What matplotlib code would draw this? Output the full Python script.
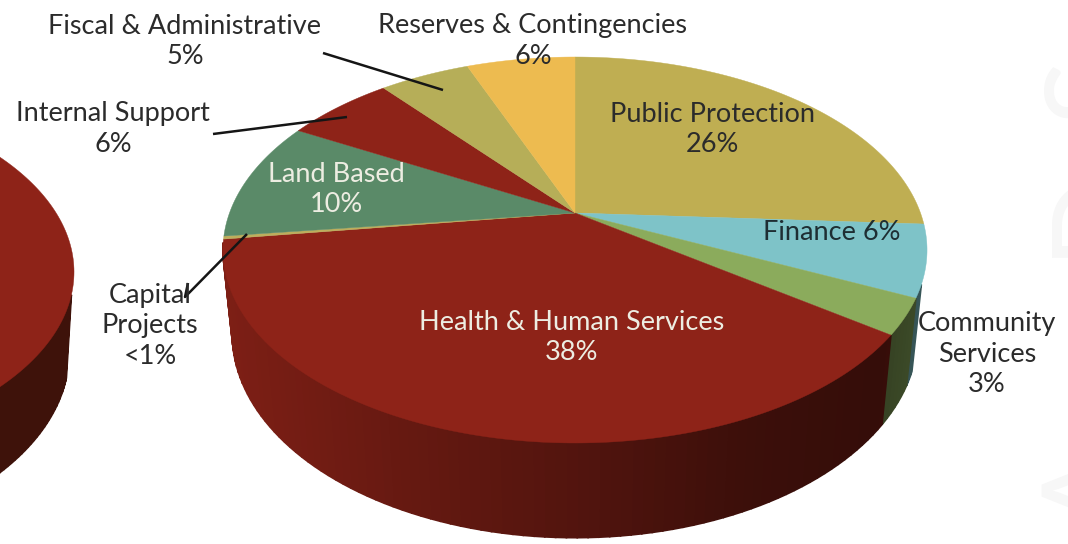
import numpy as np
import matplotlib
matplotlib.use('Agg')
import matplotlib.pyplot as plt

plt.rcParams['font.family'] = ['Lato', 'DejaVu Sans']

# budget shares, clockwise from 12 o'clock
categories = ['Public Protection', 'Finance', 'Community Services', 'Health & Human Services',
              'Capital Projects', 'Land Based', 'Internal Support', 'Fiscal & Administrative',
              'Reserves & Contingencies']
shares = [26, 6, 3, 38, 0.25, 10, 6, 5, 6]
slice_colors = ['#BFAE52', '#7EC3C8', '#8BAB5C', '#8E2318', '#BDAE5C', '#5A8A68',
                '#8E2318', '#B6AE58', '#EDBB50']

# neighbouring pie, only its right edge is on the page
left_shares = [30, 70]
left_top_color = '#8E2318'
left_wall_color = '#3E120A'

# text blocks: text, x, y, colour
label_text = ['Fiscal & Administrative\n5%', 'Reserves & Contingencies\n6%', 'Internal Support\n6%',
              'Public Protection\n26%', 'Finance 6%', 'Land Based\n10%', 'Capital\nProjects\n<1%',
              'Health & Human Services\n38%', 'Community\nServices\n3%']
label_x = [185, 533, 113, 712, 832, 336, 150, 572, 987]
label_y = [41, 41, 129, 129, 233, 189, 326, 338, 354]
label_colors = ['#2B2B2B', '#2B2B2B', '#2B2B2B', '#2B2B2B', '#1E2E33', '#EDEDE2',
                '#2B2B2B', '#EDEDE2', '#2B2B2B']

# leader lines
leader_x = [[323, 443], [213, 347], [188, 185, 247]]
leader_y = [[53, 90], [134, 117], [283, 297, 234]]


def project(theta, cx, cy, scale=1.0, lower=False):
    """Perspective view of the pie disc, theta in degrees clockwise from the top."""
    t = np.radians(theta)
    px, py = np.sin(t), np.cos(t)
    w = 1 + 0.1917 * py + (0.026 if lower else 0)
    drop = 85 if lower else 0
    return cx + scale * 345.5 * px / w, cy - scale * (185.9 * py - drop) / w


def edges(vals):
    return np.concatenate([[0], np.cumsum(vals)]) / np.sum(vals) * 360


def wall_color(color, x):
    # the side gets darker towards the right
    shade = np.interp(x, [224, 400, 575, 750, 880, 927], [0.88, 0.72, 0.58, 0.42, 0.37, 0.45])
    return tuple(np.array(matplotlib.colors.to_rgb(color)) * shade)


fig = plt.figure(figsize=(10.68, 5.44), dpi=100)
ax = fig.add_axes([0, 0, 1, 1])
ax.set_xlim(0, 1068)
ax.set_ylim(544, 0)
ax.axis('off')

# faint lettering behind the chart
for ch, y in zip(['S', 'D', 'A'], [88, 211, 490]):
    ax.text(1040, y, ch, rotation=90, fontsize=88, color='#F7F7F7', ha='left', va='center', zorder=0)

# main pie: side wall first
cx, cy = 575, 213
bounds = edges(shares)
for i, col in enumerate(slice_colors):
    start, stop = max(bounds[i], 111), min(bounds[i + 1], bounds[4] - 1)
    if stop <= start:
        continue
    segs = np.append(np.arange(start, stop, 1.5), stop)
    for a, b in zip(segs[:-1], segs[1:]):
        x1, y1 = project(np.array([a, b]), cx, cy)
        x2, y2 = project(np.array([b, a]), cx, cy, lower=True)
        c = wall_color(col, x1.mean())
        ax.fill(np.r_[x1, x2], np.r_[y1, y2], color=c, lw=1.2, zorder=2)

# main pie: top face
for i, col in enumerate(slice_colors):
    th = np.linspace(bounds[i], bounds[i + 1], 120)
    x, y = project(th, cx, cy)
    ax.fill(np.r_[cx, x], np.r_[cy, y], color=col, lw=0.3, zorder=3)

# partial pie at the left
lcx, lcy, k = -259, 237, 0.946
lbound = edges(left_shares)[1]
segs = np.arange(lbound, 200, 1.0)
for a, b in zip(segs[:-1], segs[1:]):
    x1, y1 = project(np.array([a, b]), lcx, lcy, k)
    x2, y2 = project(np.array([b, a]), lcx, lcy, k * 1.012, lower=True)
    ax.fill(np.r_[x1, x2], np.r_[y1, y2], color=left_wall_color, lw=1.2, zorder=2)
th = np.linspace(0, 360, 361)
x, y = project(th, lcx, lcy, k)
ax.fill(x, y, color=left_top_color, lw=0.3, zorder=3)

for lx, ly in zip(leader_x, leader_y):
    ax.plot(lx, ly, color='#151515', lw=1.8, zorder=5, solid_capstyle='butt')

for s, x, y, c in zip(label_text, label_x, label_y, label_colors):
    ax.text(x, y, s, color=c, fontsize=19.5, ha='center', va='center', linespacing=1.25, zorder=6)

fig.savefig('out.png', dpi=100)
